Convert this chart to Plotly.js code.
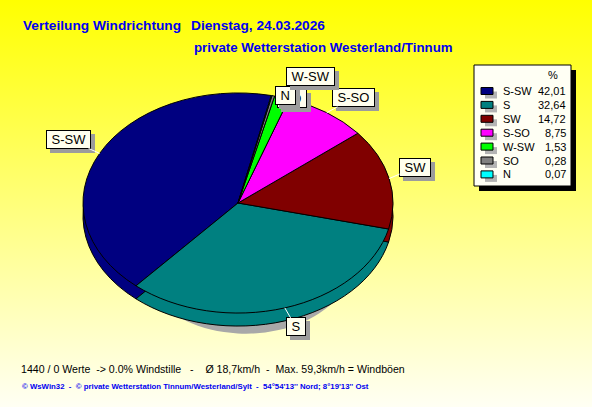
<!DOCTYPE html>
<html><head><meta charset="utf-8">
<script src="https://cdn.plot.ly/plotly-3.0.1.min.js"></script>
<style>
html,body{margin:0;padding:0;overflow:hidden;}
#chart{width:592px;height:407px;background:linear-gradient(to bottom,#FFFF00 0%,#FFFFF4 100%);}
.annotation rect.bg{filter:drop-shadow(4px 4px 0 #9c9c9c);}
.pielayer path{vector-effect:non-scaling-stroke;}
</style></head><body><div id="chart"></div>
<script>
// ---- data ----
const directions = ['S-SW','S','SW','S-SO','W-SW','SO','N'];
const percents = [42.01, 32.64, 14.72, 8.75, 1.53, 0.28, 0.07];
const percentLabels = ['42,01','32,64','14,72','8,75','1,53','0,28','0,07'];
const sliceColors = ['#000080','#008080','#800000','#FF00FF','#00FF00','#808080','#00FFFF'];
const titleLeft = 'Verteilung Windrichtung';
const titleDate = 'Dienstag, 24.03.2026';
const titleLine2 = 'private Wetterstation Westerland/Tinnum';
const infoLine = '1440 / 0 Werte \u00a0-> 0.0% Windstille \u00a0\u00a0-\u00a0\u00a0\u00a0 Ø 18,7km/h \u00a0-\u00a0 Max. 59,3km/h = Windböen';
const footerLine = '© WsWin32 \u00a0-\u00a0 © private Wetterstation Tinnum/Westerland/Sylt \u00a0-\u00a0 54°54\'13\'\' Nord; 8°19\'13\'\' Ost';

// ---- layout geometry (pixels) ----
const W = 592, H = 407;
const CX = 238, CY = 203, RX = 155, K = 0.71, RY = RX * K;
const ROT = 12.4;   // first slice starts this many degrees clockwise from 12 o'clock, runs counterclockwise
const SIDE = 13;    // 3d depth
const px = x => x / W, py = y => 1 - y / H;
const domainFor = (cx, cy, r) => ({x:[px(cx - r), px(cx + r)], y:[py(cy + r), py(cy - r)]});

const total = percents.reduce((a,b)=>a+b, 0);
// plotly (counterclockwise) places the first slice ending at `rotation`, so shift by its angle
const plotlyRotation = ROT - percents[0] / total * 360;

// label box offsets from slice edge (pixels)
const labelOffsets = {'S-SW':[-31,-14],'S':[11,19],'SW':[26,-11],'S-SO':[27,-15],'W-SW':[29,-21],'SO':[19,3],'N':[14,0]};
const labelLeader = {'S-SW':true,'S':true,'SW':true,'S-SO':true,'W-SW':false,'SO':false,'N':false};
const labelOrder = ['S-SW','S','SW','S-SO','SO','N','W-SW'];

const pieBase = {type:'pie', values:percents, labels:directions, sort:false,
  direction:'counterclockwise', rotation:plotlyRotation, textinfo:'none', hoverinfo:'skip', showlegend:false};

const traces = [
  Object.assign({}, pieBase, {domain:domainFor(246, CY, 108), marker:{colors:percents.map(()=> '#a8a8a8'), line:{width:0}}}),
  Object.assign({}, pieBase, {domain:domainFor(CX, CY, RX), marker:{colors:sliceColors, line:{color:'#000', width:1}}}),
  Object.assign({}, pieBase, {domain:domainFor(CX, CY, RX), marker:{colors:sliceColors, line:{color:'#000', width:1}}})
];
const traceShifts = [[0, 54], [0, SIDE], [0, 0]];

// slice mid angles (math convention, degrees)
const startAngle = 90 - ROT;
const mids = {};
let acc = 0;
percents.forEach((v,i)=>{ mids[directions[i]] = startAngle + (acc + v/2) / total * 360; acc += v; });

const annotations = [];
const font13 = {family:'Liberation Sans, Arial, sans-serif', size:13, color:'#000'};
labelOrder.forEach(name=>{
  const a = mids[name] * Math.PI / 180;
  const ex = CX + RX * Math.cos(a), ey = CY - RY * Math.sin(a);
  const [ox, oy] = labelOffsets[name];
  annotations.push({xref:'paper', yref:'paper', x:px(ex), y:py(ey), ax:ox, ay:oy,
    showarrow:true, arrowhead:0, arrowwidth:1, arrowcolor: labelLeader[name] ? '#ffffff' : 'rgba(0,0,0,0)',
    text:'\u00a0' + name + '\u00a0', font:font13, bgcolor:'#FFFFEE', bordercolor:'#000', borderwidth:1, borderpad:1});
});

// titles & text
const blue = '#0000F0';
const titleFont = {family:'Liberation Sans, Arial, sans-serif', size:13.7, color:blue, weight:'bold'};
annotations.push({xref:'paper', yref:'paper', x:px(21), y:py(25.5), xanchor:'left', yanchor:'middle', showarrow:false, text:titleLeft, font:titleFont});
annotations.push({xref:'paper', yref:'paper', x:px(189), y:py(25.5), xanchor:'left', yanchor:'middle', showarrow:false, text:titleDate, font:titleFont});
annotations.push({xref:'paper', yref:'paper', x:px(192), y:py(47.5), xanchor:'left', yanchor:'middle', showarrow:false, text:titleLine2,
  font:{family:'Liberation Sans, Arial, sans-serif', size:13.3, color:blue, weight:'bold'}});
annotations.push({xref:'paper', yref:'paper', x:px(19), y:py(369), xanchor:'left', yanchor:'middle', showarrow:false, text:infoLine,
  font:{family:'Liberation Sans, Arial, sans-serif', size:10.6, color:'#000'}});
annotations.push({xref:'paper', yref:'paper', x:px(20), y:py(386), xanchor:'left', yanchor:'middle', showarrow:false, text:footerLine,
  font:{family:'Liberation Sans, Arial, sans-serif', size:7.8, color:blue, weight:'bold'}});

// legend
const LX0 = 474, LY0 = 65, LX1 = 571, LY1 = 186, ROW0 = 91, ROWH = 13.9;
const shapes = [
  {type:'rect', xref:'paper', yref:'paper', x0:px(LX0+5), x1:px(LX1+5), y0:py(LY1+5), y1:py(LY0+5), fillcolor:'#000', line:{width:0}, layer:'above'},
  {type:'rect', xref:'paper', yref:'paper', x0:px(LX0), x1:px(LX1), y0:py(LY1), y1:py(LY0), fillcolor:'#FFFFF4', line:{color:'#000', width:1}, layer:'above'}
];
const legFont = {family:'Liberation Sans, Arial, sans-serif', size:11, color:'#000'};
annotations.push({xref:'paper', yref:'paper', x:px(553), y:py(75), xanchor:'center', yanchor:'middle', showarrow:false, text:'%', font:legFont});
directions.forEach((name,i)=>{
  const yc = ROW0 + i*ROWH;
  shapes.push({type:'rect', xref:'paper', yref:'paper', x0:px(485), x1:px(497), y0:py(yc+7.5), y1:py(yc+0.5), fillcolor:'#b4b4b4', line:{width:0}, layer:'above'});
  shapes.push({type:'rect', xref:'paper', yref:'paper', x0:px(481), x1:px(493), y0:py(yc+3.5), y1:py(yc-3.5), fillcolor:sliceColors[i], line:{color:'#000', width:1}, layer:'above'});
  annotations.push({xref:'paper', yref:'paper', x:px(501), y:py(yc), xanchor:'left', yanchor:'middle', showarrow:false, text:name, font:legFont});
  annotations.push({xref:'paper', yref:'paper', x:px(568), y:py(yc), xanchor:'right', yanchor:'middle', showarrow:false, text:percentLabels[i], font:legFont});
});

const layout = {width:W, height:H, margin:{l:0,r:0,t:0,b:0}, paper_bgcolor:'rgba(0,0,0,0)', plot_bgcolor:'rgba(0,0,0,0)',
  showlegend:false, annotations:annotations, shapes:shapes};

Plotly.newPlot('chart', traces, layout, {displayModeBar:false, staticPlot:true}).then(gd=>{
  const groups = gd.querySelectorAll('.pielayer g.trace');
  groups.forEach((g,i)=>{
    const [dx, dy] = traceShifts[i];
    g.setAttribute('transform', `translate(${dx},${CY+dy}) scale(1,${K}) translate(0,${-CY})`);
  });
});
</script></body></html>
